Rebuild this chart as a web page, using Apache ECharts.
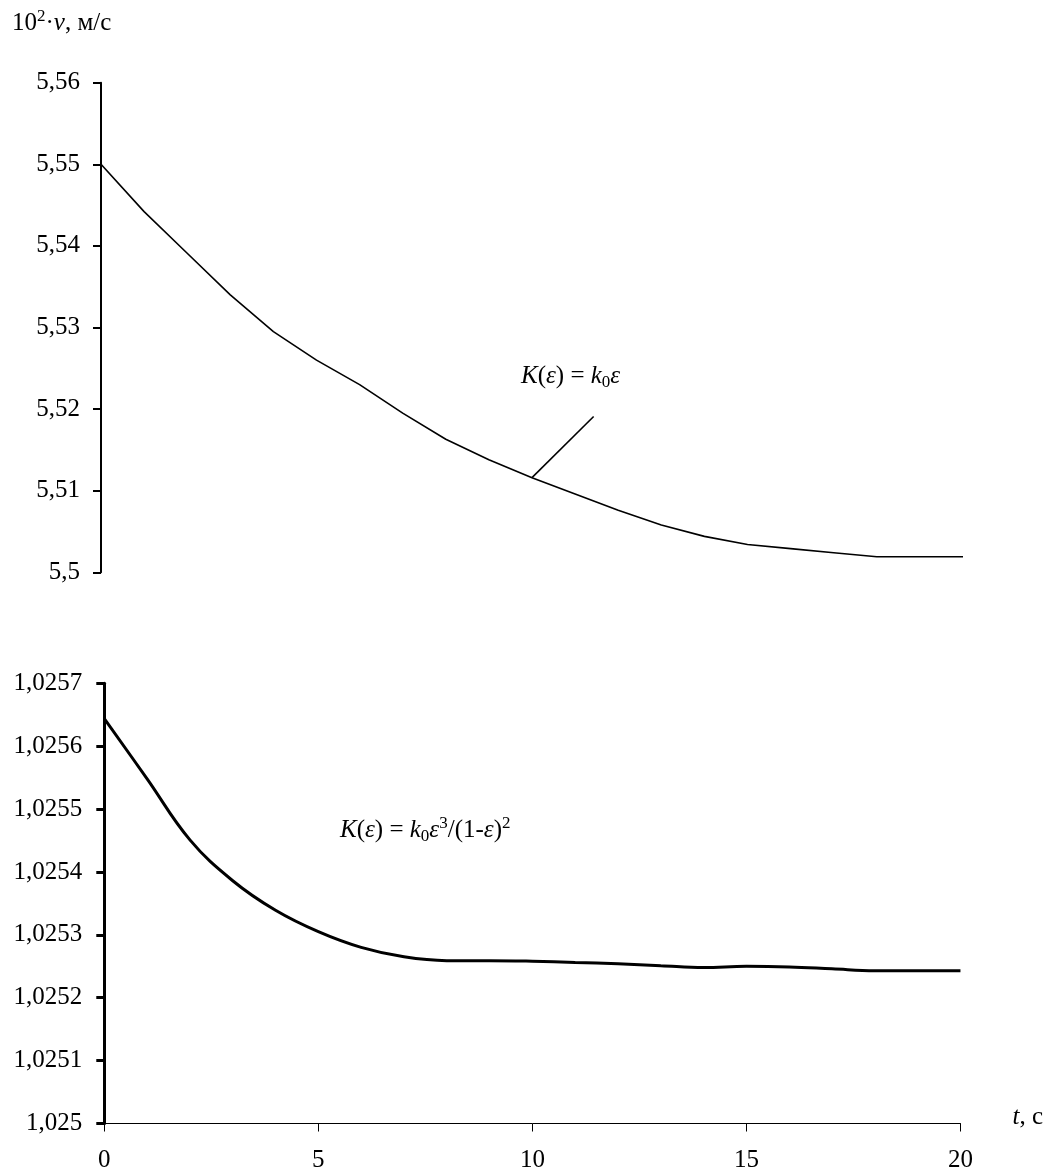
<!DOCTYPE html>
<html><head><meta charset="utf-8">
<script src="https://cdn.jsdelivr.net/npm/echarts@6/dist/echarts.min.js"></script>
<style>html,body{margin:0;padding:0;background:#fff}#c{width:1044px;height:1176px}</style>
</head><body><div id="c"></div>
<script>
// time, s
const timeS = [0,1,2,3,4,5,6,7,8,9,10,11,12,13,14,15,16,17,18,19,20];
// 10^2·v, m/s for K(ε) = k0·ε
const velocityLinear = [5.5500,5.5442,5.5391,5.5340,5.5295,5.5260,5.5230,5.5195,5.5163,5.5138,5.5116,5.5096,5.5076,5.5058,5.5044,5.5034,5.5029,5.5024,5.5019,5.5019,5.5019];
// 10^2·v, m/s for K(ε) = k0·ε^3/(1-ε)^2
const velocityKozeny = [1.025644,1.025548,1.025451,1.025386,1.025339,1.025305,1.025280,1.025265,1.025259,1.025259,1.025258,1.025256,1.025254,1.025251,1.025248,1.025250,1.025249,1.025246,1.025243,1.025243,1.025243];
// tick values
const yTicksTop = [5.5,5.51,5.52,5.53,5.54,5.55,5.56];
const yTicksBottom = [1.025,1.0251,1.0252,1.0253,1.0254,1.0255,1.0256,1.0257];
const xTicks = [0,5,10,15,20];
// leader line for the upper curve label
const leaderFrom = [10, 5.5116];
const leaderTo = [11.43, 5.5191];

const FF = 'Liberation Serif';
const fmt = v => String(+(+v).toFixed(5)).replace('.', ',');

const chart = echarts.init(document.getElementById('c'), null, {renderer:'canvas'});
const base = {fontFamily: FF, fontSize: 25, color: '#000'};
const rich = {
  n: {fontFamily: FF, fontSize: 25, color:'#000', lineHeight: 30},
  i: {fontFamily: FF, fontSize: 25, fontStyle:'italic', color:'#000', lineHeight: 30},
  sub: {fontFamily: FF, fontSize: 17, color:'#000', lineHeight: 17, verticalAlign:'bottom'},
  sup: {fontFamily: FF, fontSize: 17, color:'#000', lineHeight: 17, verticalAlign:'top', padding:[0,0,0,0]}
};

chart.setOption({
  animation: false,
  backgroundColor: '#fff',
  grid: [
    {left: 101, width: 862, top: 82.7, height: 489.6},
    {left: 104.3, width: 858.2, top: 683.3, height: 440.2}
  ],
  xAxis: [
    {gridIndex: 0, type: 'value', min: 0, max: 20, interval: 5, show: false},
    {gridIndex: 1, type: 'value', min: 0, max: 20, interval: 5,
     axisLine: {show: true, onZero: false, lineStyle: {color:'#000', width: 1}},
     axisTick: {show: true, length: 8, lineStyle: {color:'#000', width: 1}},
     axisLabel: Object.assign({margin: 24, formatter: v => xTicks.includes(v) ? String(v) : ''}, base),
     splitLine: {show: false},
     name: '{i|t}{n|, с}', nameLocation: 'end', nameGap: 52,
     nameTextStyle: {rich: rich, padding: [0,0,12,0], verticalAlign: 'middle', align: 'left'}
    }
  ],
  yAxis: [
    {gridIndex: 0, type: 'value', min: 5.5, max: 5.56, interval: 0.01,
     axisLine: {show: true, lineStyle: {color:'#000', width: 2}},
     axisTick: {show: true, length: 8, lineStyle: {color:'#000', width: 2}},
     axisLabel: Object.assign({margin: 21, formatter: v => fmt(v)}, base),
     splitLine: {show: false}},
    {gridIndex: 1, type: 'value', min: 1.025, max: 1.0257, interval: 0.0001,
     axisLine: {show: true, lineStyle: {color:'#000', width: 3}},
     axisTick: {show: true, length: 8, lineStyle: {color:'#000', width: 3}},
     axisLabel: Object.assign({margin: 22, formatter: v => fmt(v)}, base),
     splitLine: {show: false}}
  ],
  series: [
    {type: 'line', xAxisIndex: 0, yAxisIndex: 0, showSymbol: false,
     data: timeS.map((t, k) => [t, velocityLinear[k]]),
     lineStyle: {color:'#000', width: 1.6},
     markLine: {silent: true, symbol: ['none','none'], label: {show: false},
       lineStyle: {color:'#000', width: 1.6, type: 'solid'},
       data: [[{coord: leaderFrom}, {coord: leaderTo}]]}
    },
    {type: 'line', xAxisIndex: 1, yAxisIndex: 1, showSymbol: false, smooth: 0.4,
     data: timeS.map((t, k) => [t, velocityKozeny[k]]),
     lineStyle: {color:'#000', width: 3}}
  ],
  graphic: [
    {type: 'text', left: 12, top: 8, style: {
      text: '{n|10}{sup|2}{n|·}{i|v}{n|, м/с}', rich: rich}},
    {type: 'text', left: 521, top: 364, style: {
      text: '{i|K}{n|(}{i|ε}{n|) = }{i|k}{sub|0}{i|ε}', rich: rich}},
    {type: 'text', left: 340, top: 815, style: {
      text: '{i|K}{n|(}{i|ε}{n|) = }{i|k}{sub|0}{i|ε}{sup|3}{n|/(1-}{i|ε}{n|)}{sup|2}', rich: rich}}
  ]
});
</script>
</body></html>
